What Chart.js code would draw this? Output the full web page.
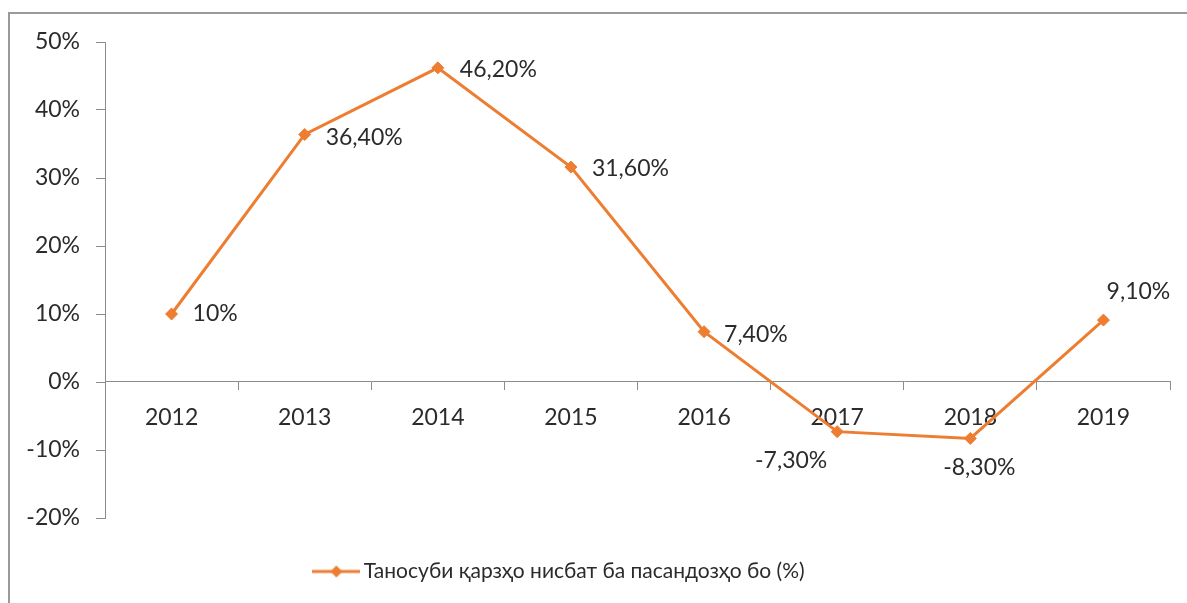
<!DOCTYPE html>
<html><head><meta charset="utf-8">
<script src="https://cdn.jsdelivr.net/npm/chart.js@4.4.0/dist/chart.umd.min.js"></script>
<style>
html,body{margin:0;padding:0;overflow:hidden;background:#fff;width:1187px;height:603px;}
#frame{position:absolute;left:8px;top:12px;width:1300px;height:800px;border:2px solid #9a9a9a;box-sizing:border-box;}
#wrap{position:absolute;left:0;top:0;width:1187px;height:603px;}
</style></head><body>
<div id="frame"></div>
<div id="wrap"><canvas id="c" width="1187" height="603"></canvas></div>
<script>
// ---- data ----
const categories = ['2012', '2013', '2014', '2015', '2016', '2017', '2018', '2019'];
const values = [0.10, 0.364, 0.462, 0.316, 0.074, -0.073, -0.083, 0.091];
const pointLabels = ['10%', '36,40%', '46,20%', '31,60%', '7,40%', '-7,30%', '-8,30%', '9,10%'];
const yMin = -0.2, yMax = 0.5, yStep = 0.1;
const seriesName = 'Таносуби қарзҳо нисбат ба пасандозҳо бо (%)';

// ---- styles ----
const ORANGE = '#ED7D31';
const AXIS = '#8c8c8c';
const TEXT = '#2b2b2b';
const FONT = "Lato, 'Noto Sans', 'Open Sans', sans-serif";

// label offsets relative to each point (style, not data)
const labelPlacement = [
  {dx: 21, dy: 0, align: 'left'},
  {dx: 21, dy: 3, align: 'left'},
  {dx: 22, dy: 2, align: 'left'},
  {dx: 21, dy: 1, align: 'left'},
  {dx: 20, dy: 3, align: 'left'},
  {dx: -46, dy: 29, align: 'center'},
  {dx: 9, dy: 29, align: 'center'},
  {dx: 35, dy: -29, align: 'center'}
];

// legend marker: line with diamond
const marker = document.createElement('canvas');
marker.width = 48; marker.height = 16;
(function(){
  const g = marker.getContext('2d');
  g.strokeStyle = ORANGE; g.lineWidth = 3;
  g.beginPath(); g.moveTo(0, 8); g.lineTo(48, 8); g.stroke();
  g.fillStyle = ORANGE;
  g.beginPath(); g.moveTo(24, 2); g.lineTo(30, 8); g.lineTo(24, 14); g.lineTo(18, 8); g.closePath(); g.fill();
})();

const pointTextPlugin = {
  id: 'pointText',
  afterDatasetsDraw(chart, args, opts) {
    const ctx = chart.ctx;
    const meta = chart.getDatasetMeta(0);
    ctx.save();
    ctx.fillStyle = TEXT;
    ctx.font = opts.font;
    ctx.textBaseline = 'middle';
    meta.data.forEach((pt, i) => {
      const p = opts.placement[i];
      ctx.textAlign = p.align;
      ctx.fillText(opts.labels[i], pt.x + p.dx, pt.y + p.dy);
    });
    ctx.restore();
  }
};

const legendShiftPlugin = {
  id: 'legendShift',
  afterLayout(chart, args, opts) {
    if (chart.legend) {
      chart.legend.left += opts.dx;
      chart.legend.right += opts.dx;
    }
  }
};

new Chart(document.getElementById('c'), {
  type: 'line',
  data: {
    labels: categories,
    datasets: [{
      label: seriesName,
      data: values,
      borderColor: ORANGE,
      backgroundColor: ORANGE,
      borderWidth: 3,
      pointStyle: 'rectRot',
      pointRadius: 6,
      pointHoverRadius: 6,
      pointBackgroundColor: ORANGE,
      pointBorderColor: ORANGE,
      pointBorderWidth: 1,
      tension: 0,
      fill: false
    }]
  },
  options: {
    responsive: false,
    animation: false,
    devicePixelRatio: 1,
    layout: {padding: {top: 42, right: 17, left: 0, bottom: 11}},
    scales: {
      x: {
        type: 'category',
        position: {y: 0},
        offset: true,
        grid: {display: true, drawOnChartArea: false, drawTicks: true, tickLength: 8, offset: true, color: AXIS},
        border: {display: true, color: AXIS, width: 1},
        ticks: {color: TEXT, font: {family: FONT, size: 23}, padding: 14, maxRotation: 0, autoSkip: false}
      },
      y: {
        min: yMin,
        max: yMax,
        grid: {display: true, drawOnChartArea: false, drawTicks: true, tickLength: 9, color: AXIS},
        border: {display: true, color: AXIS, width: 1},
        ticks: {
          stepSize: yStep,
          color: TEXT,
          font: {family: FONT, size: 23},
          padding: 16,
          callback: v => Math.round(v * 100) + '%'
        },
        afterFit(s) { s.width = 105; }
      }
    },
    plugins: {
      tooltip: {enabled: false},
      legend: {
        position: 'bottom',
        title: {display: true, text: ' ', font: {size: 1, lineHeight: 1}, padding: {top: 0, bottom: 23}},
        labels: {
          usePointStyle: true,
          pointStyleWidth: 34,
          pointStyle: marker,
          color: TEXT,
          font: {family: FONT, size: 21},
          padding: 19
        }
      },
      legendShift: {dx: -23},
      pointText: {labels: pointLabels, placement: labelPlacement, font: "23px " + FONT}
    }
  },
  plugins: [pointTextPlugin, legendShiftPlugin]
});
</script>
</body></html>
